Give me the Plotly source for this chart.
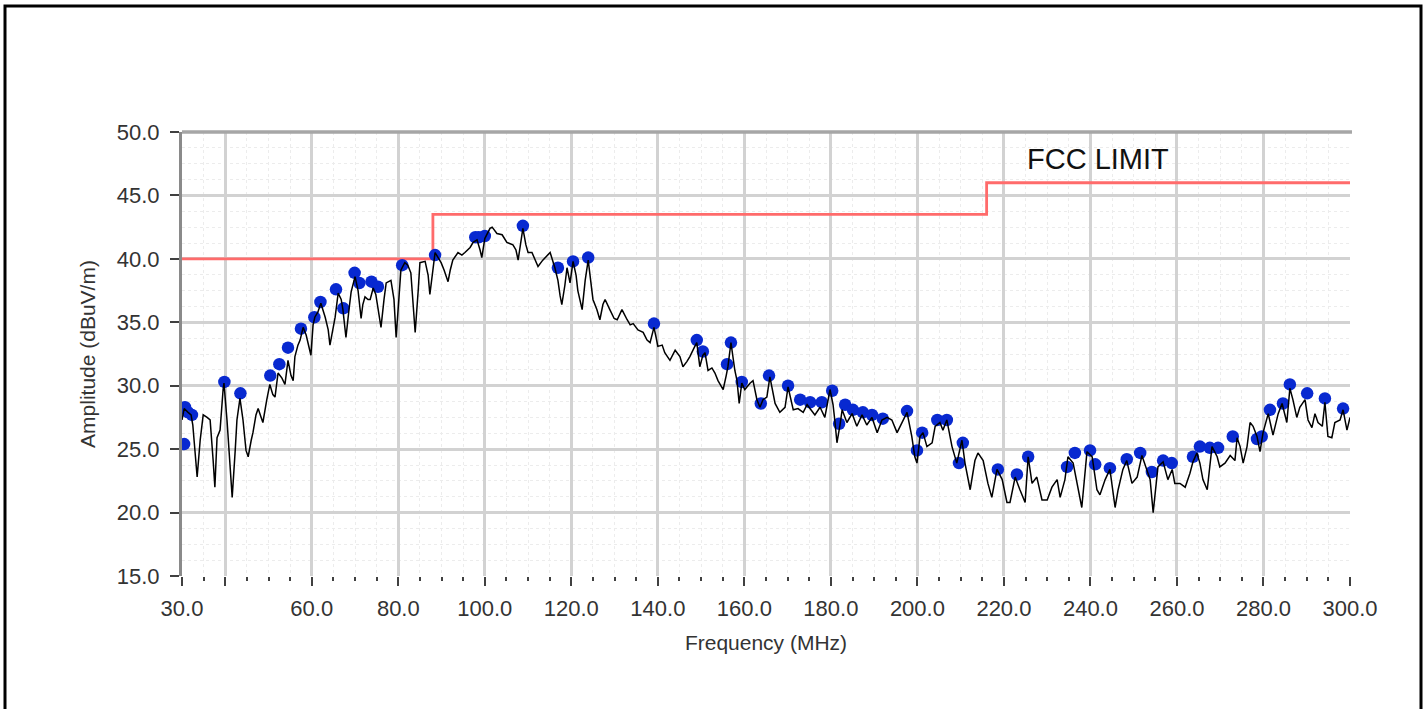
import plotly.graph_objects as go

# ---- measured spectrum trace (MHz, dBuV/m) ----
freq = [30.0, 30.5, 31.4, 32.1, 32.5, 33.5, 34.2, 34.9, 35.8, 36.5, 37.2, 37.6, 38.1, 38.8, 39.5, 39.7,
        40.4, 41.1, 41.6, 42.3, 42.7, 43.4, 44.1, 44.8, 45.3, 46.0, 46.4, 47.1, 47.6, 48.3, 48.7, 49.6,
        50.3, 51.0, 51.5, 52.2, 53.1, 53.8, 54.5, 55.2, 55.7, 56.1, 56.8, 57.3, 58.0, 58.7, 59.4, 59.8,
        60.3, 60.7, 61.4, 62.1, 63.1, 63.8, 64.2, 64.9, 65.4, 66.1, 66.8, 67.2, 67.9, 68.6, 69.1, 70.0,
        70.7, 71.4, 71.8, 72.3, 73.0, 73.5, 74.2, 74.8, 75.3, 76.0, 76.7, 77.2, 78.3, 79.0, 79.5, 80.2,
        80.6, 81.5, 82.2, 82.9, 83.4, 83.9, 84.6, 85.0, 86.2, 86.9, 87.3, 88.0, 88.5, 89.2, 89.9, 90.6,
        91.5, 92.0, 92.6, 93.8, 94.7, 95.4, 96.6, 97.3, 98.2, 98.9, 99.3, 100.0, 101.2, 101.7, 102.8, 104.0,
        105.1, 106.5, 107.2, 107.7, 108.4, 108.8, 109.5, 110.0, 110.9, 111.6, 112.3, 113.4, 114.4, 115.1,
        116.2, 116.9, 117.4, 117.8, 118.5, 119.0, 119.7, 120.4, 121.1, 121.5, 122.5, 123.2, 123.9, 124.3,
        125.0, 125.9, 126.6, 127.3, 127.8, 128.9, 129.9, 130.6, 131.7, 132.9, 133.6, 134.3, 135.4, 136.6,
        137.5, 138.2, 139.1, 139.6, 140.0, 141.0, 141.6, 142.8, 144.0, 145.1, 145.8, 146.7, 147.4, 148.4,
        149.0, 149.7, 150.4, 150.9, 151.6, 152.5, 153.2, 153.9, 155.1, 155.8, 156.2, 156.9, 157.4, 157.8,
        158.3, 158.8, 159.4, 160.1, 161.3, 162.0, 162.9, 163.6, 164.3, 165.2, 165.9, 166.6, 167.1, 168.2,
        169.4, 170.1, 170.8, 171.3, 172.4, 173.6, 174.5, 175.2, 176.3, 177.5, 178.6, 179.8, 180.5, 180.9,
        181.4, 182.1, 182.6, 183.7, 184.9, 186.0, 187.2, 188.3, 189.5, 190.7, 191.8, 193.0, 194.1, 195.3,
        196.4, 197.6, 198.7, 199.4, 199.9, 200.6, 201.3, 202.2, 203.4, 204.1, 205.2, 205.9, 206.8, 208.0,
        209.1, 210.3, 211.0, 212.2, 213.3, 214.0, 215.2, 216.3, 217.2, 218.4, 219.6, 220.7, 221.4, 222.6,
        223.7, 224.9, 225.6, 226.5, 227.6, 228.8, 230.0, 231.1, 232.3, 233.0, 234.1, 234.8, 236.0, 237.1,
        238.0, 239.2, 240.4, 241.5, 242.2, 243.4, 244.5, 245.7, 246.4, 247.5, 248.4, 249.6, 250.8, 251.9,
        253.1, 253.8, 254.5, 255.6, 256.8, 257.9, 258.9, 259.5, 260.7, 261.9, 263.0, 263.7, 264.6, 265.3,
        266.0, 267.0, 268.1, 269.3, 269.9, 271.1, 272.3, 273.4, 273.9, 274.6, 275.3, 276.2, 276.9, 277.6,
        278.5, 279.2, 279.9, 281.1, 282.2, 283.4, 284.3, 285.4, 286.1, 286.8, 287.7, 288.4, 289.6, 290.3,
        291.2, 291.9, 292.6, 293.6, 294.2, 294.9, 295.8, 296.5, 297.7, 298.4, 299.3, 300.0]
amplitude = [27.3, 28.2, 27.9, 27.7, 26.9, 22.8, 25.7, 27.7, 27.5, 27.3, 24.1, 22.0, 25.9, 26.5, 29.7, 30.2,
             27.3, 23.4, 21.2, 24.9, 27.3, 29.0, 27.3, 24.9, 24.4, 25.7, 26.3, 27.7, 28.2, 27.5, 27.1, 28.9,
             30.1, 29.3, 29.1, 31.0, 30.6, 30.1, 32.0, 30.8, 30.4, 32.3, 33.2, 33.6, 34.6, 34.0, 32.8, 32.4,
             34.8, 35.4, 35.8, 36.5, 35.4, 34.4, 33.2, 34.4, 35.4, 37.3, 36.8, 36.0, 33.8, 36.0, 37.4, 38.6,
             37.5, 35.3, 36.4, 37.0, 36.8, 36.8, 37.7, 37.2, 36.0, 34.6, 36.8, 38.1, 38.3, 36.8, 33.8, 36.8,
             39.1, 39.7, 39.5, 38.9, 36.8, 34.2, 37.5, 39.7, 39.8, 38.7, 37.2, 39.1, 40.5, 40.1, 39.7, 39.1,
             38.2, 39.1, 39.9, 40.5, 40.3, 40.5, 40.9, 41.3, 41.5, 40.7, 40.1, 41.6, 42.4, 42.5, 42.0, 41.9,
             41.3, 41.1, 40.7, 39.9, 41.5, 42.4, 41.1, 40.5, 40.5, 39.9, 39.4, 39.9, 40.3, 40.5,
             39.3, 38.3, 37.1, 36.4, 37.9, 39.3, 38.1, 39.8, 38.7, 37.5, 36.0, 38.3, 39.9, 38.6,
             36.8, 36.0, 35.2, 36.4, 36.8, 36.0, 35.3, 35.2, 36.0, 35.2, 34.8, 34.9, 34.4, 34.2,
             33.6, 33.4, 34.6, 33.8, 33.1, 33.2, 32.6, 32.0, 32.8, 32.3, 31.5, 31.9, 32.3, 33.0,
             33.4, 31.5, 32.4, 32.6, 31.2, 31.4, 31.0, 30.4, 29.7, 30.8, 31.5, 33.4, 32.0, 31.2,
             30.4, 28.6, 30.2, 29.7, 30.2, 30.4, 28.9, 28.3, 28.9, 29.1, 30.7, 29.3, 28.6, 27.9,
             28.3, 29.9, 28.9, 28.1, 28.2, 27.9, 28.5, 28.2, 27.7, 28.3, 27.5, 29.7, 28.5, 27.3,
             25.5, 26.9, 28.1, 27.1, 27.8, 26.8, 27.7, 26.9, 27.5, 26.3, 27.3, 27.5, 27.3, 26.3,
             27.1, 27.9, 26.0, 24.4, 23.9, 26.0, 26.3, 25.2, 25.5, 26.8, 27.1, 26.5, 27.3, 25.2,
             23.9, 25.7, 23.9, 21.8, 24.1, 24.7, 24.1, 22.3, 21.2, 23.4, 22.6, 20.8, 20.8, 22.8,
             21.8, 20.8, 24.4, 22.3, 22.8, 21.0, 21.0, 22.0, 22.6, 21.2, 22.6, 24.4, 23.9, 21.8,
             20.4, 24.8, 24.4, 21.8, 21.4, 22.6, 23.4, 20.4, 21.8, 23.4, 24.1, 22.3, 22.8, 24.5,
             23.4, 22.6, 20.0, 23.6, 24.0, 22.6, 23.4, 22.3, 22.3, 22.0, 23.1, 24.0, 24.7, 23.9,
             22.6, 21.8, 25.2, 24.4, 23.6, 23.9, 24.5, 24.1, 25.9, 25.2, 23.9, 25.2, 27.1, 26.8,
             26.0, 24.8, 26.3, 27.8, 26.1, 27.8, 28.6, 27.1, 29.8, 28.9, 27.5, 28.3, 28.9, 27.3,
             26.7, 27.8, 27.1, 26.8, 28.7, 26.0, 25.9, 27.1, 27.3, 28.1, 26.5, 27.5]

# ---- detected peaks (blue markers) ----
peak_freq = [30.5, 30.7, 31.4, 32.3, 39.8, 43.5, 50.4, 52.5, 54.5, 57.5, 60.6, 62.0, 65.6, 67.3, 69.9,
             71.0, 73.8, 75.3, 80.9, 88.5, 97.8, 98.6, 100.0, 108.8, 116.9, 120.4, 123.9, 139.1, 149.0,
             150.4, 156.0, 156.9, 159.4, 163.8, 165.7, 170.1, 172.9, 175.2, 177.9, 180.3, 181.9, 183.3,
             185.1, 187.4, 189.5, 192.0, 197.6, 199.9, 201.1, 204.6, 206.8, 209.6, 210.5, 218.6, 223.0,
             225.6, 234.6, 236.4, 239.9, 241.1, 244.5, 248.4, 251.5, 254.2, 256.8, 258.8, 263.7, 265.3,
             267.6, 269.5, 272.9, 278.5, 279.6, 281.5, 284.5, 286.1, 290.1, 294.2, 298.4]
peak_amp = [25.4, 28.3, 27.9, 27.7, 30.3, 29.4, 30.8, 31.7, 33.0, 34.5, 35.4, 36.6, 37.6, 36.1, 38.9,
            38.1, 38.2, 37.8, 39.5, 40.3, 41.7, 41.7, 41.8, 42.6, 39.3, 39.8, 40.1, 34.9, 33.6,
            32.7, 31.7, 33.4, 30.3, 28.6, 30.8, 30.0, 28.9, 28.7, 28.7, 29.6, 27.0, 28.5,
            28.1, 27.9, 27.7, 27.4, 28.0, 24.9, 26.3, 27.3, 27.3, 23.9, 25.5, 23.4, 23.0,
            24.4, 23.6, 24.7, 24.9, 23.8, 23.5, 24.2, 24.7, 23.2, 24.1, 23.9, 24.4, 25.2,
            25.1, 25.1, 26.0, 25.8, 26.0, 28.1, 28.6, 30.1, 29.4, 29.0, 28.2]

# ---- FCC limit (step) ----
limit_freq = [30, 88, 88, 216, 216, 300]
limit_amp = [40.0, 40.0, 43.5, 43.5, 46.0, 46.0]

# ---- axis ticks ----
x_tickvals = [30, 40, 60, 80, 100, 120, 140, 160, 180, 200, 220, 240, 260, 280, 300]
x_ticktext = ["30.0", "", "60.0", "80.0", "100.0", "120.0", "140.0", "160.0", "180.0", "200.0",
              "220.0", "240.0", "260.0", "280.0", "300.0"]
x_minor = [v for v in range(35, 300, 5) if v not in x_tickvals]
y_tickvals = [15, 20, 25, 30, 35, 40, 45, 50]
y_ticktext = ["15.0", "20.0", "25.0", "30.0", "35.0", "40.0", "45.0", "50.0"]

W, H = 1426, 709
L, R, T, B = 182, 76, 132, 133

fig = go.Figure()
fig.add_trace(go.Scatter(x=limit_freq, y=limit_amp, mode="lines",
                         line=dict(color="#ff6b6b", width=2.8), showlegend=False, hoverinfo="skip"))
fig.add_trace(go.Scatter(x=peak_freq, y=peak_amp, mode="markers",
                         marker=dict(color="#0829d0", size=12.5, line=dict(width=0)), showlegend=False))
fig.add_trace(go.Scatter(x=freq, y=amplitude, mode="lines",
                         line=dict(color="#000000", width=1.5), showlegend=False))

fig.add_annotation(x=241.7, y=47.9, xref="x", yref="y", text="FCC LIMIT", showarrow=False,
                   font=dict(family="Liberation Sans, Arial", size=29, color="#111111"))

# outer frame and top axis line
pw, ph = W - L - R, H - T - B
fig.add_shape(type="rect", xref="paper", yref="paper",
              x0=(5 - L) / pw, x1=(1421 - L) / pw, y0=(H - B - 730) / ph, y1=(H - B - 6) / ph,
              line=dict(color="#000000", width=3), layer="below")
fig.add_shape(type="line", xref="paper", yref="paper", x0=0, x1=1.0017, y0=1, y1=1,
              line=dict(color="#a6a6a6", width=3.5))

tickfont = dict(family="Liberation Sans, Arial", size=22, color="#333333")
fig.update_layout(
    width=W, height=H, margin=dict(l=L, r=R, t=T, b=B, pad=0),
    paper_bgcolor="white", plot_bgcolor="white",
    xaxis=dict(range=[30, 300], tickmode="array", tickvals=x_tickvals, ticktext=x_ticktext,
               ticks="outside", ticklen=9, tickwidth=2, tickcolor="#404040",
               showgrid=True, gridcolor="#d2d2d2", gridwidth=2.5, zeroline=False, showline=False,
               tickfont=tickfont, ticklabelstandoff=4,
               minor=dict(tickmode="array", tickvals=x_minor, ticks="outside", ticklen=4, tickwidth=2,
                          tickcolor="#404040", showgrid=True, gridcolor="#ececec", griddash="dot",
                          gridwidth=1),
               title=dict(text="Frequency (MHz)", standoff=14,
                          font=dict(family="Liberation Sans, Arial", size=21, color="#333333"))),
    yaxis=dict(range=[15, 50], tickmode="array", tickvals=y_tickvals, ticktext=y_ticktext,
               ticks="outside", ticklen=9, tickwidth=2, tickcolor="#404040",
               showgrid=True, gridcolor="#d2d2d2", gridwidth=2.5, zeroline=False,
               showline=True, linecolor="#8a8a8a", linewidth=3,
               tickfont=tickfont, ticklabelstandoff=6,
               minor=dict(dtick=1.25, tick0=15, ticks="", showgrid=True, gridcolor="#ececec",
                          griddash="dot", gridwidth=1),
               title=dict(text="Amplitude (dBuV/m)", standoff=16,
                          font=dict(family="Liberation Sans, Arial", size=21, color="#333333"))),
)

fig.write_html("out.html", config={"displayModeBar": False},
               post_script="document.body.style.margin='0';document.body.style.overflow='hidden';")
